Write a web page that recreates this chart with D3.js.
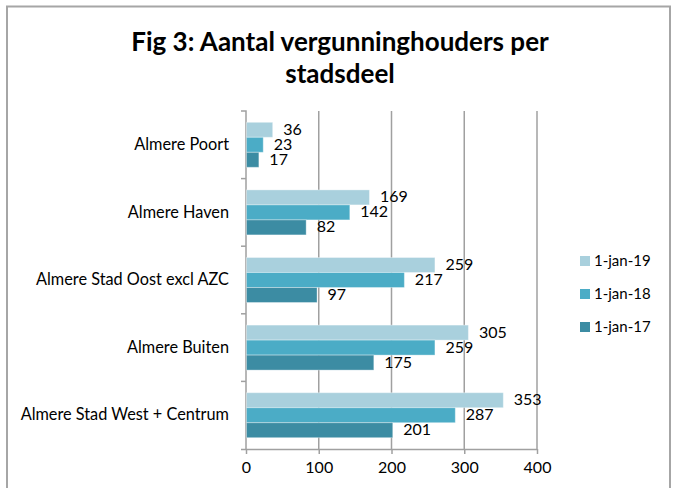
<!DOCTYPE html>
<html><head><meta charset="utf-8">
<script src="https://cdn.jsdelivr.net/npm/d3@7"></script>
<style>body{margin:0;background:#fff}svg{display:block}</style>
</head><body>
<script>
const categories = ["Almere Poort","Almere Haven","Almere Stad Oost excl AZC","Almere Buiten","Almere Stad West + Centrum"];
const seriesNames = ["1-jan-19","1-jan-18","1-jan-17"];
const jan19 = [36,169,259,305,353];
const jan18 = [23,142,217,259,287];
const jan17 = [17,82,97,175,201];
const xTicks = [0,100,200,300,400];
const colors = ["#A9D0DD","#4BACC6","#3C8CA3"];
const seriesValues = [jan19, jan18, jan17];

const W=673,H=488;
const svg=d3.select("body").append("svg").attr("width",W).attr("height",H);
const font="Lato, 'Open Sans', sans-serif";
svg.append("rect").attr("x",7).attr("y",6.5).attr("width",663).attr("height",490)
  .attr("fill","#fff").attr("stroke","#A6A6A6").attr("stroke-width",2);

const title=svg.append("text").attr("text-anchor","middle").attr("font-family",font)
  .attr("font-weight","bold").attr("font-size",26).attr("fill","#000");
title.append("tspan").attr("x",340).attr("y",51).text("Fig 3: Aantal vergunninghouders per");
title.append("tspan").attr("x",340).attr("y",83).text("stadsdeel");

const x=d3.scaleLinear().domain([0,400]).range([246,537]);
const y=d3.scaleBand().domain(categories).range([111,449]).padding(0);
const groupH=45;
const ys=d3.scaleBand().domain(seriesNames).range([0,groupH]).padding(0);
const off=(y.bandwidth()-groupH)/2;

// gridlines
svg.append("g").selectAll("line").data(xTicks.slice(1)).join("line")
  .attr("x1",d=>x(d)).attr("x2",d=>x(d)).attr("y1",111).attr("y2",449)
  .attr("stroke","#A0A0A0").attr("stroke-width",1.5);

// x axis
const xa=svg.append("g").attr("transform","translate(0,449)")
  .call(d3.axisBottom(x).tickValues(xTicks).tickSize(5).tickPadding(8));
xa.select(".domain").attr("stroke","#A0A0A0").attr("stroke-width",1.5).attr("d","M241,0.5H"+x(400));
xa.selectAll(".tick line").attr("stroke","#A0A0A0").attr("stroke-width",1.5);
xa.selectAll(".tick text").attr("font-family",font).attr("font-size",16).attr("fill","#000");

// y axis
const ya=svg.append("g").attr("transform","translate(246,0)")
  .call(d3.axisLeft(y).tickSize(0).tickPadding(17));
ya.select(".domain").attr("stroke","#A0A0A0").attr("stroke-width",1.5).attr("d","M-5,111H0V449");
ya.selectAll(".tick text").attr("font-family",font).attr("font-size",16.3).attr("fill","#000");
svg.append("g").selectAll("line").data(categories.slice(1)).join("line")
  .attr("x1",241).attr("x2",246).attr("y1",d=>y(d)).attr("y2",d=>y(d))
  .attr("stroke","#A0A0A0").attr("stroke-width",1.5);

// bars
const data=[];
categories.forEach((c,i)=>seriesNames.forEach((s,j)=>data.push({c,s,j,v:seriesValues[j][i]})));
svg.append("g").selectAll("rect").data(data).join("rect")
  .attr("x",x(0)+0.5).attr("y",d=>y(d.c)+off+ys(d.s))
  .attr("width",d=>x(d.v)-x(0)).attr("height",ys.bandwidth())
  .attr("fill",d=>colors[d.j]).attr("stroke","#fff").attr("stroke-opacity",0.35).attr("stroke-width",1);
svg.append("g").selectAll("text").data(data).join("text")
  .attr("x",d=>x(d.v)+11).attr("y",d=>y(d.c)+off+ys(d.s)+ys.bandwidth()/2+1)
  .attr("dominant-baseline","middle").attr("font-family",font).attr("font-size",16).attr("fill","#000")
  .text(d=>d.v);

// legend
const lg=svg.append("g").selectAll("g").data(seriesNames).join("g")
  .attr("transform",(d,i)=>`translate(580,${261+i*33})`);
lg.append("rect").attr("x",0).attr("y",-5).attr("width",10).attr("height",10).attr("fill",(d,i)=>colors[i]);
lg.append("text").attr("x",14).attr("y",1).attr("dominant-baseline","middle")
  .attr("font-family",font).attr("font-size",15).attr("fill","#000").text(d=>d);
</script>
</body></html>
